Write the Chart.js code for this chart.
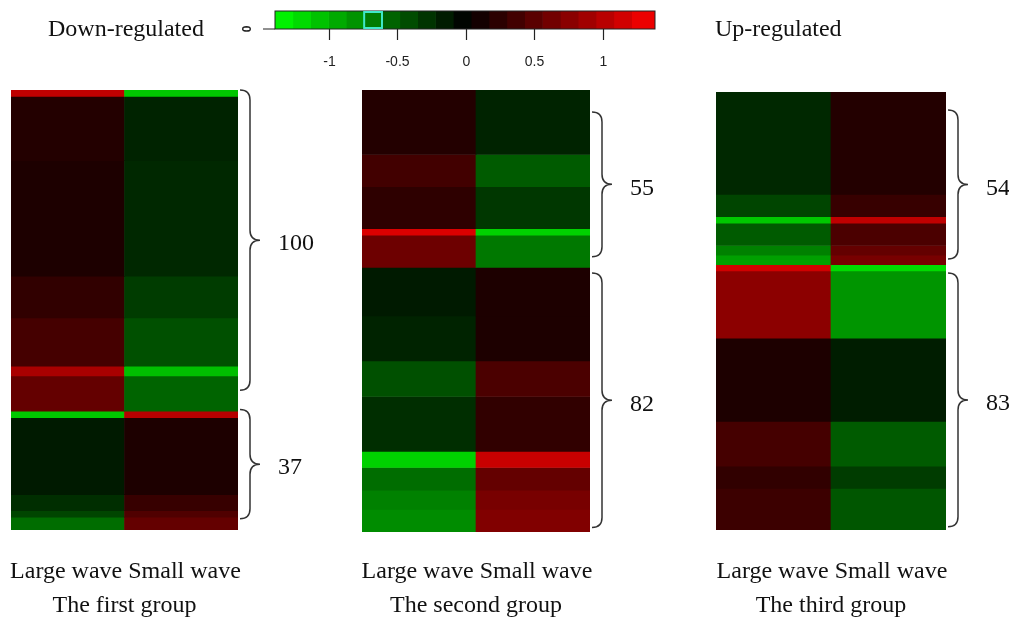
<!DOCTYPE html>
<html lang="en">
<head>
    <meta charset="UTF-8">
    <title>Wave heatmaps</title>
    <script src="https://cdn.jsdelivr.net/npm/chart.js"></script>
    <style>
        body { margin: 0; background: #fff; }
        #wrap { position: relative; width: 1009px; height: 618px; }
        #wrap canvas { position: absolute; left: 0; top: 0; }
    </style>
</head>
<body>
<div id="wrap">
    <canvas id="key" width="1009" height="618"></canvas>
    <canvas id="g1" width="1009" height="618"></canvas>
    <canvas id="g2" width="1009" height="618"></canvas>
    <canvas id="g3" width="1009" height="618"></canvas>
</div>
<script>
    // columns
    const waves = ['Large wave', 'Small wave'];

    // colour key breaks and ticks
    const keyBreaks = [-1.39, -1.26, -1.13, -1.00, -0.87, -0.74, -0.61, -0.48, -0.35, -0.22, -0.09,
                       0.04, 0.17, 0.30, 0.43, 0.56, 0.69, 0.82, 0.95, 1.08, 1.21, 1.38];
    const keyTicks = [-1, -0.5, 0, 0.5, 1];
    const keyHighlight = [-0.74, -0.61];

    // group 1: row band edges (137 genes), then log-ratio per band
    const g1Rows  = [0, 2, 22, 58, 71, 86, 89, 100, 102, 126, 131, 133, 137];
    const g1Large = [1.05, 0.19, 0.16, 0.27, 0.38, 0.93, 0.55, -1.10, -0.14, -0.25, -0.38, -0.60];
    const g1Small = [-1.10, -0.19, -0.22, -0.33, -0.44, -1.05, -0.55, 1.00, 0.16, 0.30, 0.44, 0.55];
    const g1Braces = [[0, 93.5], [99.5, 133.5]];
    const g1Counts = ['100', '37'];

    // group 2
    const g2Rows  = [0, 20, 30, 43, 45, 55, 70, 84, 95, 112, 117, 124, 130, 137];
    const g2Large = [0.19, 0.36, 0.25, 1.20, 0.60, -0.14, -0.19, -0.44, -0.25, -1.15, -0.60, -0.71, -0.77];
    const g2Small = [-0.19, -0.50, -0.30, -1.15, -0.66, 0.16, 0.16, 0.41, 0.27, 1.10, 0.55, 0.66, 0.71];
    const g2Braces = [[6.8, 51.7], [56.7, 135.6]];
    const g2Counts = ['55', '82'];

    // group 3
    const g3Rows  = [0, 32, 39, 41, 48, 51, 54, 56, 77, 103, 117, 124, 137];
    const g3Large = [-0.22, -0.38, -1.10, -0.50, -0.71, -0.88, 1.15, 0.77, 0.16, 0.38, 0.27, 0.33];
    const g3Small = [0.19, 0.30, 1.05, 0.41, 0.55, 0.66, -1.20, -0.82, -0.16, -0.50, -0.33, -0.47];
    const g3Braces = [[5.6, 52.2], [56.6, 136]];
    const g3Counts = ['54', '83'];

    const groupTitles = ['The first group', 'The second group', 'The third group'];

    const W = 1009, H = 618;
    const serif = '"Liberation Serif", "DejaVu Serif", serif';

    function colorFor(v) {
        const c = Math.round(Math.min(1, Math.abs(v) / 1.4) * 255);
        return v >= 0 ? `rgb(${c},0,0)` : `rgb(0,${c},0)`;
    }

    function drawBrace(ctx, x, y1, y2) {
        const w = 10, mid = (y1 + y2) / 2;
        ctx.beginPath();
        ctx.moveTo(x, y1);
        ctx.quadraticCurveTo(x + w, y1, x + w, y1 + w);
        ctx.lineTo(x + w, mid - w);
        ctx.quadraticCurveTo(x + w, mid, x + 2 * w, mid);
        ctx.quadraticCurveTo(x + w, mid, x + w, mid + w);
        ctx.lineTo(x + w, y2 - w);
        ctx.quadraticCurveTo(x + w, y2, x, y2);
        ctx.stroke();
    }

    // colour key
    const keySets = [];
    for (let i = 0; i < keyBreaks.length - 1; i++) {
        keySets.push({
            data: [[keyBreaks[i], keyBreaks[i + 1]]],
            backgroundColor: colorFor((keyBreaks[i] + keyBreaks[i + 1]) / 2),
            borderWidth: 0,
            grouped: false,
            barPercentage: 1,
            categoryPercentage: 1
        });
    }

    const keyDecor = {
        id: 'keyDecor',
        afterDraw(chart) {
            const ctx = chart.ctx, a = chart.chartArea, x = chart.scales.x;
            ctx.save();
            ctx.strokeStyle = '#222';
            ctx.lineWidth = 1;
            ctx.strokeRect(a.left, a.top, a.right - a.left, a.bottom - a.top);
            // little density axis on the left
            ctx.beginPath();
            ctx.moveTo(a.left - 12, a.bottom);
            ctx.lineTo(a.left, a.bottom);
            ctx.stroke();
            ctx.save();
            ctx.translate(a.left - 27, a.bottom);
            ctx.rotate(-Math.PI / 2);
            ctx.fillStyle = '#222';
            ctx.font = 'bold 12px "Liberation Sans", sans-serif';
            ctx.textAlign = 'center';
            ctx.textBaseline = 'middle';
            ctx.fillText('0', 0, 0);
            ctx.restore();
            // highlighted block
            ctx.strokeStyle = '#3fe8c8';
            ctx.lineWidth = 2;
            const h0 = x.getPixelForValue(keyHighlight[0]), h1 = x.getPixelForValue(keyHighlight[1]);
            ctx.strokeRect(h0, a.top + 1, h1 - h0, a.bottom - a.top - 2);
            // ticks
            ctx.strokeStyle = '#222';
            ctx.lineWidth = 1.2;
            ctx.fillStyle = '#222';
            ctx.font = '14px "Liberation Sans Narrow", "Liberation Sans", sans-serif';
            ctx.textAlign = 'center';
            ctx.textBaseline = 'middle';
            keyTicks.forEach(t => {
                const px = Math.round(x.getPixelForValue(t)) + 0.5;
                ctx.beginPath();
                ctx.moveTo(px, a.bottom);
                ctx.lineTo(px, a.bottom + 11);
                ctx.stroke();
                ctx.fillText(String(t), px, 62);
            });
            ctx.font = '24px ' + serif;
            ctx.fillStyle = '#111';
            ctx.textAlign = 'left';
            ctx.fillText('Down-regulated', 48, 30);
            ctx.fillText('Up-regulated', 715, 30);
            ctx.restore();
        }
    };

    new Chart(document.getElementById('key'), {
        type: 'bar',
        data: { labels: ['key'], datasets: keySets },
        options: {
            indexAxis: 'y',
            responsive: false,
            animation: false,
            layout: { padding: { left: 275, right: W - 655, top: 11, bottom: H - 29 } },
            scales: {
                x: { type: 'linear', min: keyBreaks[0], max: keyBreaks[keyBreaks.length - 1], display: false },
                y: { display: false }
            },
            plugins: { legend: { display: false }, tooltip: { enabled: false } }
        },
        plugins: [keyDecor]
    });

    // heatmaps
    function heatmap(id, area, rows, large, small, braces, counts, title) {
        const sets = [];
        for (let i = 0; i < rows.length - 1; i++) {
            sets.push({
                data: [[rows[i], rows[i + 1]], [rows[i], rows[i + 1]]],
                backgroundColor: [colorFor(large[i]), colorFor(small[i])],
                borderWidth: 0,
                grouped: false,
                barPercentage: 1,
                categoryPercentage: 1
            });
        }
        const decor = {
            id: 'decor' + id,
            afterDraw(chart) {
                const ctx = chart.ctx, a = chart.chartArea, y = chart.scales.y;
                const cx = (a.left + a.right) / 2;
                ctx.save();
                ctx.fillStyle = '#111';
                ctx.font = '24px ' + serif;
                ctx.textAlign = 'center';
                ctx.textBaseline = 'middle';
                // column names sit side by side under the two columns
                ctx.fillText(waves.join(' '), cx + 1, 572);
                ctx.fillText(title, cx, 606);
                ctx.strokeStyle = '#333';
                ctx.lineWidth = 1.5;
                ctx.textAlign = 'left';
                braces.forEach((b, i) => {
                    const y1 = y.getPixelForValue(b[0]), y2 = y.getPixelForValue(b[1]);
                    drawBrace(ctx, a.right + 2, y1, y2);
                    ctx.fillText(counts[i], a.right + 40, (y1 + y2) / 2 + 4);
                });
                ctx.restore();
            }
        };
        new Chart(document.getElementById(id), {
            type: 'bar',
            data: { labels: waves, datasets: sets },
            options: {
                responsive: false,
                animation: false,
                layout: { padding: { left: area[0], right: W - area[1], top: area[2], bottom: H - area[3] } },
                scales: {
                    x: { display: false },
                    y: { type: 'linear', min: 0, max: 137, reverse: true, display: false }
                },
                plugins: { legend: { display: false }, tooltip: { enabled: false } }
            },
            plugins: [decor]
        });
    }

    heatmap('g1', [11, 238, 90, 530], g1Rows, g1Large, g1Small, g1Braces, g1Counts, groupTitles[0]);
    heatmap('g2', [362, 590, 90, 532], g2Rows, g2Large, g2Small, g2Braces, g2Counts, groupTitles[1]);
    heatmap('g3', [716, 946, 92, 530], g3Rows, g3Large, g3Small, g3Braces, g3Counts, groupTitles[2]);
</script>
</body>
</html>
